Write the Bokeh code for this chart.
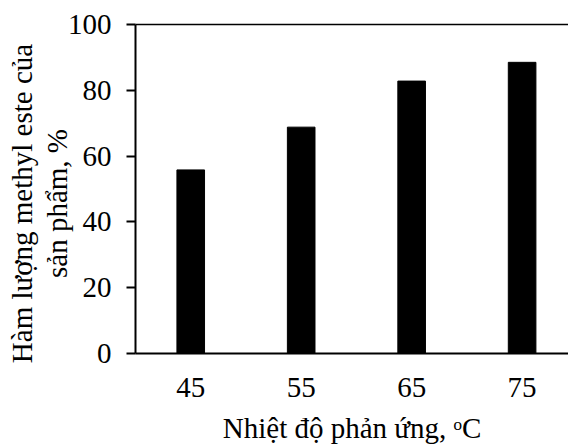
from bokeh.plotting import figure
from bokeh.models import FixedTicker, LinearAxis, Range1d, ColumnDataSource
from bokeh.embed import file_html
from bokeh.resources import INLINE

categories = ["45", "55", "65", "75"]
values = [55.8, 68.8, 82.8, 88.5]
y_ticks = [0, 20, 40, 60, 80, 100]
x_title = "Nhiệt độ phản ứng, ᵒC"
y_title_lines = ["Hàm lượng methyl este của", "sản phẩm, %"]

FONT = "Liberation Serif"
FS = "29px"
PAD = "\u00a0" * 4

positions = [i + 0.5 for i in range(len(categories))]
src = ColumnDataSource(dict(x=positions, top=values))

p = figure(width=568, height=446, output_backend="svg", toolbar_location=None,
           x_range=Range1d(0, 3.92), y_range=Range1d(0, 100),
           min_border_left=135, min_border_right=0, min_border_top=24,
           min_border_bottom=93)
p.outline_line_color = None
p.background_fill_color = "white"
p.border_fill_color = "white"
p.xgrid.visible = False
p.ygrid.visible = False

p.vbar(x="x", top="top", width=0.25, bottom=0, source=src,
       fill_color="black", line_color="black")

# x axis
xa = p.xaxis[0]
xa.ticker = FixedTicker(ticks=positions)
xa.major_label_overrides = {pos: lab for pos, lab in zip(positions, categories)}
xa.major_tick_line_color = None
xa.major_tick_in = 0
xa.major_tick_out = 0
xa.minor_tick_line_color = None
xa.axis_line_width = 2
xa.axis_line_color = "black"
xa.major_label_text_font = FONT
xa.major_label_text_font_size = FS
xa.major_label_text_color = "black"
xa.major_label_standoff = 24
xa.axis_label = x_title
xa.axis_label_text_font = FONT
xa.axis_label_text_font_size = FS
xa.axis_label_text_font_style = "normal"
xa.axis_label_text_color = "black"
xa.axis_label_standoff = 12

# y axis
ya = p.yaxis[0]
ya.ticker = FixedTicker(ticks=y_ticks)
ya.major_tick_in = 0
ya.major_tick_out = 9
ya.major_tick_line_width = 2
ya.major_tick_line_color = "black"
ya.minor_tick_line_color = None
ya.axis_line_width = 2
ya.axis_line_color = "black"
ya.major_label_text_font = FONT
ya.major_label_text_font_size = FS
ya.major_label_text_color = "black"
ya.major_label_standoff = 15
ya.axis_label = "\n".join(line + PAD for line in y_title_lines)
ya.axis_label_text_font = FONT
ya.axis_label_text_font_size = FS
ya.axis_label_text_font_style = "normal"
ya.axis_label_text_color = "black"
ya.axis_label_text_line_height = 1.1
ya.axis_label_standoff = -8

# top border line
top = LinearAxis(ticker=FixedTicker(ticks=[]), major_tick_line_color=None,
                 minor_tick_line_color=None, major_label_text_font_size="0px",
                 axis_line_width=1.5, axis_line_color="black")
p.add_layout(top, "above")

open("out.html", "w").write(file_html(p, INLINE))
